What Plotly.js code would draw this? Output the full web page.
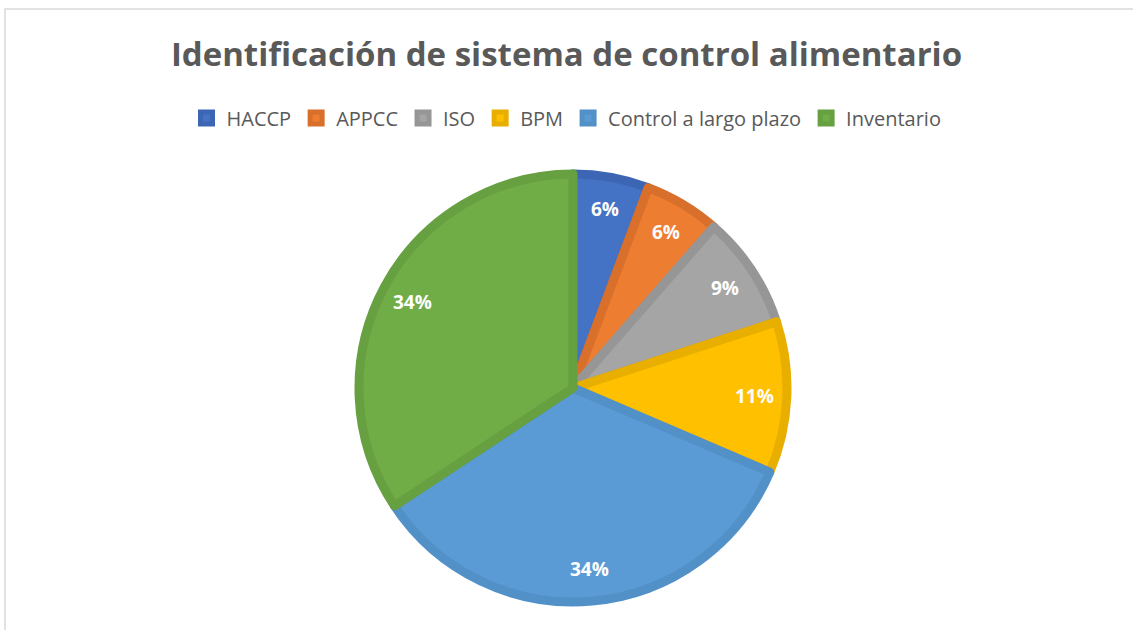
<!DOCTYPE html>
<html>
<head>
<meta charset="utf-8">
<script src="https://cdn.plot.ly/plotly-3.0.1.min.js"></script>
<style>html,body{margin:0;padding:0;background:#fff;}#chart{width:1133px;height:630px;}</style>
</head>
<body>
<div id="chart"></div>
<script>
const categories = ["HACCP", "APPCC", "ISO", "BPM", "Control a largo plazo", "Inventario"];
const values = [2, 2, 3, 4, 12, 12];
const fillColors = ["#4472C4", "#ED7D31", "#A5A5A5", "#FFC000", "#5B9BD5", "#70AD47"];
const edgeColors = ["#3C66B3", "#D8702B", "#969696", "#E8AE00", "#5290C8", "#66A040"];
const chartTitle = "Identificación de sistema de control alimentario";

const W = 1133, H = 630;
const cx = 573, cy = 388, R = 214;
const domX = [(cx - R) / W, (cx + R) / W];
const domY = [1 - (cy + R) / H, 1 - (cy - R) / H];

const total = values.reduce((a, b) => a + b, 0);
const annotations = [];
let cum = 0;
values.forEach((v, i) => {
  const mid = (cum + v / 2) / total * 2 * Math.PI;
  cum += v;
  const rf = 0.85;
  const px = cx + Math.sin(mid) * R * rf;
  const py = cy - Math.cos(mid) * R * rf;
  annotations.push({
    x: px / W, y: 1 - py / H, xref: "paper", yref: "paper",
    text: Math.round(v / total * 100) + "%", showarrow: false,
    font: {family: "Open Sans, sans-serif", size: 19, color: "#ffffff", weight: "bold"},
    xanchor: "center", yanchor: "middle"
  });
});

const data = [{
  type: "pie",
  labels: categories,
  values: values,
  sort: false,
  direction: "clockwise",
  rotation: 0,
  textinfo: "none",
  hoverinfo: "label+percent",
  marker: {colors: fillColors, line: {color: edgeColors, width: 9}},
  domain: {x: domX, y: domY}
}];

const layout = {
  width: W, height: H,
  margin: {l: 0, r: 0, t: 0, b: 0},
  paper_bgcolor: "#ffffff",
  title: {
    text: "<b>" + chartTitle + "</b>",
    font: {family: "Open Sans, sans-serif", size: 33, color: "#595959"},
    x: 0.5, xanchor: "center", y: 1 - 54 / H, yanchor: "middle"
  },
  showlegend: true,
  legend: {
    orientation: "h", x: 0.5, xanchor: "center", y: 1 - 118 / H, yanchor: "middle",
    font: {family: "Open Sans, sans-serif", size: 20, color: "#595959"},
    traceorder: "normal"
  },
  annotations: annotations,
  shapes: [{
    type: "path", xref: "paper", yref: "paper",
    path: "M " + (5 / W) + " 0 L " + (5 / W) + " " + (1 - 9 / H) + " L 1 " + (1 - 9 / H),
    line: {color: "#D9D9D9", width: 1.5}
  }]
};

Plotly.newPlot("chart", data, layout, {displayModeBar: false, staticPlot: true});
</script>
</body>
</html>
